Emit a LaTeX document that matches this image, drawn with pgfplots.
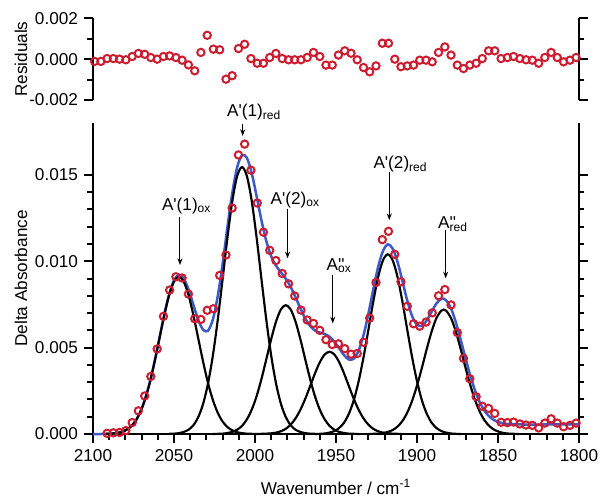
\documentclass[border=0pt]{standalone}
\usepackage{fontspec}
\setmainfont{Liberation Sans}
\usepackage{pgfplots}
\pgfplotsset{compat=1.18}
\usetikzlibrary{arrows.meta}
\definecolor{datared}{RGB}{204,28,48}
\definecolor{fitblue}{RGB}{60,90,200}
\pgfplotsset{
 myaxis/.style={
   scale only axis, width=291.6pt,
   xmin=1800, xmax=2100, x dir=reverse,
   tick align=outside,
   major tick length=5.5pt, minor tick length=3.3pt,
   axis line style={line width=1.3pt},
   every tick/.style={black, line width=1.2pt},
   tick label style={font=\fontsize{10.3}{12}\selectfont},
   label style={font=\fontsize{10.3}{12}\selectfont},
   /pgf/number format/assume math mode=true,
   clip=false,
 },
 datastyle/.style={only marks, mark=o, mark size=2.2pt, mark options={line width=1.2pt, draw=datared}},
 comp/.style={black, line width=1.3pt, smooth, no marks},
}
\begin{document}
\begin{tikzpicture}
\path[use as bounding box] (0,0) rectangle (360pt,298.2pt);
% ---------------- main panel ----------------
\begin{axis}[myaxis, at={(55.8pt,37.8pt)}, anchor=south west, height=186.6pt,
 ymin=0, ymax=0.018,
 axis x line*=bottom, axis y line*=box,
 xtick={1800,1850,...,2100}, minor x tick num=4,
 ytick={0,0.005,0.010,0.015}, minor y tick num=4,
 xticklabel style={/pgf/number format/1000 sep={}},
 yticklabel style={/pgf/number format/.cd,fixed,fixed zerofill,precision=3},
 scaled y ticks=false,
 xlabel={Wavenumber / cm\textsuperscript{-1}},
 ylabel={Delta Absorbance},
 xlabel style={at={(axis description cs:0.5,-0.193)}, anchor=base},
 ylabel style={at={(axis description cs:-0.148,0.5)}, anchor=center},
]
% data
\addplot[datastyle] coordinates {
(2091.3,0.00004) (2087.4,0.00007) (2083.6,0.00009) (2079.7,0.00020) (2075.8,0.00066)
(2072.0,0.00134) (2068.1,0.00220) (2064.3,0.00333) (2060.4,0.00492) (2056.5,0.00681)
(2052.7,0.00833) (2048.8,0.00910) (2045.0,0.00903) (2041.1,0.00810) (2037.2,0.00667)
(2033.4,0.00663) (2029.5,0.00716) (2025.7,0.00725) (2021.8,0.00918) (2017.9,0.01036)
(2014.1,0.01308) (2010.2,0.01615) (2006.4,0.01678) (2002.5,0.01527) (1998.6,0.01337)
(1994.8,0.01168) (1990.9,0.01063) (1987.1,0.01004) (1983.2,0.00929) (1979.3,0.00869)
(1975.5,0.00799) (1971.6,0.00717) (1967.8,0.00660) (1963.9,0.00640) (1960.0,0.00600)
(1956.2,0.00546) (1952.3,0.00518) (1948.5,0.00522) (1944.6,0.00494) (1940.7,0.00462)
(1936.9,0.00466) (1933.0,0.00531) (1929.2,0.00671) (1925.3,0.00877) (1921.4,0.01125)
(1917.6,0.01173) (1913.7,0.01040) (1909.9,0.00881) (1906.0,0.00739) (1902.1,0.00638)
(1898.3,0.00624) (1894.4,0.00648) (1890.6,0.00701) (1886.7,0.00800) (1882.8,0.00836)
(1879.0,0.00747) (1875.1,0.00587) (1871.3,0.00438) (1867.4,0.00320) (1863.5,0.00216)
(1859.7,0.00161) (1855.8,0.00148) (1852.0,0.00119) (1848.1,0.00068) (1844.2,0.00066)
(1840.4,0.00069) (1836.5,0.00058) (1832.7,0.00052) (1828.8,0.00050) (1824.9,0.00035)
(1821.1,0.00063) (1817.2,0.00088) (1813.4,0.00063) (1809.5,0.00042) (1805.6,0.00050)
(1801.8,0.00063)
};
% fit
\addplot[fitblue, line width=1.5pt, smooth, no marks] coordinates {
(2100,0) (2098,0) (2095,0) (2092,0.00001) (2089,0.00002) (2086,0.00005) (2083,0.00010)
(2080,0.00021) (2077,0.00040) (2074,0.00072) (2071,0.00123) (2068,0.00198) (2065,0.00296)
(2062,0.00419) (2059,0.00555) (2056,0.00691) (2053,0.00809) (2050,0.00890) (2047,0.00921)
(2044,0.00901) (2041,0.00836) (2038,0.00747) (2035,0.00660) (2032,0.00603) (2029,0.00598)
(2026,0.00663) (2023,0.00797) (2020,0.00984) (2017,0.01198) (2014,0.01396) (2011,0.01544)
(2008,0.01614) (2005,0.01598) (2002,0.01509) (1999,0.01376) (1996,0.01236) (1993,0.01116)
(1990,0.01029) (1987,0.00974) (1984,0.00936) (1981,0.00899) (1978,0.00851) (1975,0.00792)
(1972,0.00728) (1969,0.00669) (1966,0.00626) (1963,0.00599) (1960,0.00587) (1957,0.00579)
(1954,0.00563) (1951,0.00535) (1948,0.00496) (1945,0.00456) (1942,0.00431) (1939,0.00436)
(1936,0.00483) (1933,0.00572) (1930,0.00696) (1927,0.00836) (1924,0.00966) (1921,0.01059)
(1918,0.01098) (1915,0.01073) (1912,0.00996) (1909,0.00885) (1906,0.00772) (1903,0.00682)
(1900,0.00633) (1897,0.00626) (1894,0.00657) (1891,0.00707) (1888,0.00756) (1885,0.00782)
(1883.5,0.00783) (1882,0.00774) (1879,0.00727) (1876,0.00646) (1873,0.00545) (1870,0.00437)
(1867,0.00335) (1864,0.00247) (1861,0.00179) (1858,0.00130) (1855,0.00098) (1852,0.00078)
(1849,0.00067) (1846,0.00060) (1843,0.00057) (1840,0.00056) (1835,0.00055) (1820,0.00055)
(1800,0.00055)
};
% components
\addplot[comp] coordinates {
(2092,0.00001) (2089,0.00002) (2086,0.00005) (2083,0.00010) (2080,0.00021) (2077,0.00040)
(2074,0.00072) (2071,0.00123) (2068,0.00197) (2065,0.00295) (2062,0.00417) (2059,0.00552)
(2056,0.00687) (2053,0.00803) (2050,0.00882) (2047,0.00910) (2044,0.00882) (2041,0.00803)
(2038,0.00687) (2035,0.00552) (2032,0.00417) (2029,0.00295) (2026,0.00197) (2023,0.00123)
(2020,0.00072) (2017,0.00040) (2014,0.00021) (2011,0.00010) (2008,0.00005) (2005,0.00002)
(2002,0.00001) (1999,0)
};
\addplot[comp] coordinates {
(2053,0.00001) (2050,0.00002) (2047,0.00005) (2044,0.00012) (2041,0.00025) (2038,0.00051)
(2035,0.00098) (2032,0.00175) (2029,0.00292) (2026,0.00454) (2023,0.00660) (2020,0.00896)
(2017,0.01137) (2014,0.01348) (2011,0.01493) (2008,0.01545) (2005,0.01493) (2002,0.01348)
(1999,0.01137) (1996,0.00896) (1993,0.00660) (1990,0.00454) (1987,0.00292) (1984,0.00175)
(1981,0.00098) (1978,0.00051) (1975,0.00025) (1972,0.00012) (1969,0.00005) (1966,0.00002)
(1963,0.00001)
};
\addplot[comp] coordinates {
(2026,0) (2023,0.00001) (2020,0.00002) (2017,0.00006) (2014,0.00012) (2011,0.00025)
(2008,0.00047) (2005,0.00085) (2002,0.00141) (1999,0.00219) (1996,0.00319) (1993,0.00433)
(1990,0.00549) (1987,0.00651) (1984,0.00721) (1981,0.00746) (1978,0.00721) (1975,0.00651)
(1972,0.00549) (1969,0.00433) (1966,0.00319) (1963,0.00219) (1960,0.00141) (1957,0.00085)
(1954,0.00047) (1951,0.00025) (1948,0.00012) (1945,0.00006) (1942,0.00002) (1939,0.00001)
(1936,0)
};
\addplot[comp] coordinates {
(1999,0) (1996,0.00001) (1993,0.00002) (1990,0.00004) (1987,0.00008) (1984,0.00016)
(1981,0.00030) (1978,0.00054) (1975,0.00090) (1972,0.00140) (1969,0.00203) (1966,0.00276)
(1963,0.00350) (1960,0.00415) (1957,0.00460) (1954,0.00476) (1951,0.00460) (1948,0.00415)
(1945,0.00350) (1942,0.00276) (1939,0.00203) (1936,0.00140) (1933,0.00090) (1930,0.00054)
(1927,0.00030) (1924,0.00016) (1921,0.00008) (1918,0.00004) (1915,0.00002) (1912,0.00001)
(1909,0)
};
\addplot[comp] coordinates {
(1963,0) (1960,0.00001) (1957,0.00003) (1954,0.00008) (1951,0.00017) (1948,0.00035)
(1945,0.00066) (1942,0.00118) (1939,0.00196) (1936,0.00306) (1933,0.00444) (1930,0.00603)
(1927,0.00766) (1924,0.00908) (1921,0.01005) (1918,0.01040) (1915,0.01005) (1912,0.00908)
(1909,0.00766) (1906,0.00603) (1903,0.00444) (1900,0.00306) (1897,0.00196) (1894,0.00118)
(1891,0.00066) (1888,0.00035) (1885,0.00017) (1882,0.00008) (1879,0.00003) (1876,0.00001)
(1873,0)
};
\addplot[comp] coordinates {
(1930,0) (1927,0.00001) (1924,0.00002) (1921,0.00005) (1918,0.00012) (1915,0.00023)
(1912,0.00043) (1909,0.00075) (1906,0.00124) (1903,0.00192) (1900,0.00280) (1897,0.00382)
(1894,0.00491) (1891,0.00592) (1888,0.00671) (1885,0.00714) (1883.5,0.00720) (1882,0.00714)
(1879,0.00671) (1876,0.00592) (1873,0.00491) (1870,0.00382) (1867,0.00280) (1864,0.00192)
(1861,0.00124) (1858,0.00075) (1855,0.00043) (1852,0.00023) (1849,0.00012) (1846,0.00005)
(1843,0.00002) (1840,0.00001) (1837,0)
};
% annotations
\begin{scope}[every node/.style={inner sep=0pt, font=\fontsize{10.3}{12}\selectfont}]
\node[anchor=base] at (axis cs:2042.2,0.01296) {A\textquotesingle(1)\textsubscript{ox}};
\node[anchor=base] at (axis cs:2000.5,0.01836) {A\textquotesingle(1)\textsubscript{red}};
\node[anchor=base] at (axis cs:1975.1,0.01330) {A\textquotesingle(2)\textsubscript{ox}};
\node[anchor=base] at (axis cs:1948.0,0.00949) {A\rlap{\textquotesingle\textquotesingle}\textsubscript{ox}};
\node[anchor=base] at (axis cs:1910.2,0.01538) {A\textquotesingle(2)\textsubscript{red}};
\node[anchor=base] at (axis cs:1877.8,0.01190) {A\rlap{\textquotesingle\textquotesingle}\textsubscript{red}};
\end{scope}
\begin{scope}[-{Stealth[length=4pt,width=3pt]}, line width=0.6pt]
\draw (axis cs:2046.3,0.01258) -- (axis cs:2046.3,0.00978);
\draw (axis cs:2007.6,0.01794) -- (axis cs:2007.6,0.01725);
\draw (axis cs:1979.9,0.01305) -- (axis cs:1979.9,0.01017);
\draw (axis cs:1952.0,0.00920) -- (axis cs:1952.0,0.00640);
\draw (axis cs:1917.1,0.01518) -- (axis cs:1917.1,0.01238);
\draw (axis cs:1882.3,0.01180) -- (axis cs:1882.3,0.00901);
\end{scope}
\end{axis}
% ---------------- residual panel ----------------
\begin{axis}[myaxis, at={(55.8pt,238.2pt)}, anchor=south west, height=49pt,
 ymin=-0.002, ymax=0.002,
 axis x line=none, axis y line*=box,
 xtick=\empty,
 ytick={-0.002,0,0.002}, minor y tick num=1,
 yticklabel style={/pgf/number format/.cd,fixed,fixed zerofill,precision=3},
 scaled y ticks=false,
 ylabel={Residuals},
 ylabel style={at={(axis description cs:-0.148,0.5)}, anchor=center},
]
\addplot[datastyle] coordinates {
(2099.0,-0.00011) (2095.1,-0.00011) (2091.3,0.00003) (2087.4,0.00003) (2083.6,0.00000)
(2079.7,-0.00003) (2075.8,0.00013) (2072.0,0.00028) (2068.1,0.00024) (2064.3,0.00008)
(2060.4,0.00000) (2056.5,0.00013) (2052.7,0.00016) (2048.8,0.00008) (2045.0,-0.00005)
(2041.1,-0.00028) (2037.2,-0.00057) (2033.4,0.00033) (2029.5,0.00117) (2025.7,0.00049)
(2021.8,0.00046) (2017.9,-0.00098) (2014.1,-0.00081) (2010.2,0.00052) (2006.4,0.00073)
(2002.5,0.00003) (1998.6,-0.00020) (1994.8,-0.00020) (1990.9,0.00008) (1987.1,0.00028)
(1983.2,0.00003) (1979.3,-0.00003) (1975.5,-0.00003) (1971.6,-0.00003) (1967.8,0.00008)
(1963.9,0.00033) (1960.0,0.00013) (1956.2,-0.00029) (1952.3,-0.00029) (1948.5,0.00020)
(1944.6,0.00041) (1940.7,0.00029) (1936.9,-0.00003) (1933.0,-0.00041) (1929.2,-0.00062)
(1925.3,-0.00033) (1921.4,0.00078) (1917.6,0.00078) (1913.7,0.00000) (1909.9,-0.00037)
(1906.0,-0.00033) (1902.1,-0.00029) (1898.3,-0.00005) (1894.4,-0.00005) (1890.6,-0.00013)
(1886.7,0.00033) (1882.8,0.00060) (1879.0,0.00020) (1875.1,-0.00029) (1871.3,-0.00046)
(1867.4,-0.00029) (1863.5,-0.00020) (1859.7,0.00003) (1855.8,0.00041) (1852.0,0.00041)
(1848.1,0.00003) (1844.2,0.00008) (1840.4,0.00013) (1836.5,0.00003) (1832.7,-0.00003)
(1828.8,-0.00005) (1824.9,-0.00020) (1821.1,0.00008) (1817.2,0.00033) (1813.4,0.00008)
(1809.5,-0.00013) (1805.6,-0.00005) (1801.8,0.00008)
};
\end{axis}
\end{tikzpicture}
\end{document}
